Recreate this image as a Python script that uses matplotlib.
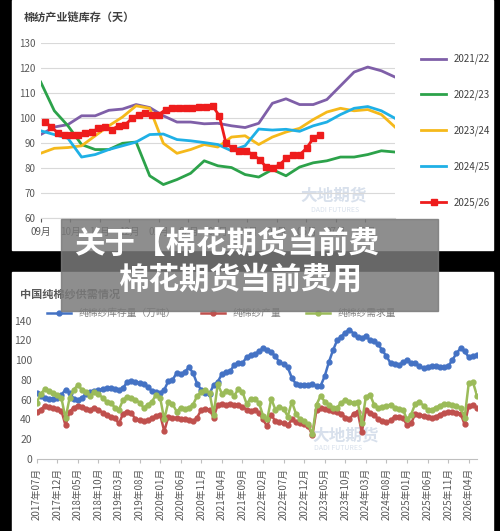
import numpy as np
import matplotlib
matplotlib.use("Agg")
import matplotlib.pyplot as plt
from matplotlib.patches import Rectangle

plt.rcParams['font.family'] = ['Noto Sans CJK SC', 'DejaVu Sans']

# ---------- top chart data (biweekly) ----------
top_months = ["09月", "10月", "11月", "12月", "01月", "02月", "03月", "04月", "05月", "06月", "07月", "08月"]
s2122 = [93.5, 96.5, 97.5, 101, 101, 103.2, 103.7, 105.5, 104.3, 101, 98.5, 98.5, 97.8, 98, 97, 96.3, 98, 106, 107.8, 105.5, 105.5, 107.5, 113, 118.5, 120.5, 119, 116.5]
s2223 = [114.5, 103, 97, 89.5, 87.5, 87.5, 90, 90.5, 77, 73.5, 75.5, 78, 83, 81, 80.3, 77.5, 76.5, 79.5, 77, 80.5, 82.2, 83, 84.5, 84.5, 85.5, 87, 86.5]
s2324 = [86, 88, 88.3, 89, 93, 97, 100.5, 105, 104, 90, 86, 87.5, 89.5, 88.5, 92.5, 93, 89.5, 92.5, 94.5, 96, 99.5, 102.5, 104, 103, 103.5, 101.5, 96.5]
s2425 = [95, 93.5, 92, 84.5, 85.5, 87.5, 89, 90.5, 93.5, 93.7, 91.5, 91, 90.3, 89.5, 87, 89, 95.7, 95.3, 95.6, 94.8, 97, 98.5, 101.5, 104, 104.7, 103, 100]
# weekly
s2526 = [98.5, 96.5, 94, 93.5, 93.5, 93.5, 94, 94.5, 96, 96.5, 95.5, 97, 97.5, 100, 101.5, 102, 101.5, 101.5, 103.5, 104, 104.3, 104, 104, 104.5, 104.5, 105, 101, 90, 88, 87, 87, 85.5, 83.5, 80.5, 80, 81.5, 84, 85.5, 85.5, 88, 92, 93.5]

# ---------- bottom chart data (monthly, 2017-07 .. 2026-06) ----------
inventory = [67,64,62,61,61,62,65,70,67,61,60,62,
             66,68,69,70,71,72,72,71,70,72,78,79,
             78,77,76,73,69,68,67,70,79,80,87,86,
             88,93,87,76,70,67,66,75,78,86,88,89,
             95,97,97,103,105,106,109,112,110,108,104,98,
             96,93,82,76,75,75,75,76,74,74,84,98,
             110,120,124,128,131,127,123,122,125,120,119,116,
             110,104,97,96,95,98,100,97,97,94,92,93,
             94,94,93,93,94,100,107,112,109,103,104,105]
production = [48,50,54,53,52,51,49,34,48,52,54,53,
              51,50,52,50,47,45,43,41,36,46,48,47,
              40,39,38,39,41,44,45,28,43,42,41,40,
              40,39,38,42,50,51,50,42,55,56,55,56,
              55,55,53,50,49,50,47,40,33,45,38,37,
              36,34,40,37,36,35,33,24,50,52,51,50,
              49,48,46,42,40,46,48,27,50,47,45,40,
              38,37,39,43,43,42,34,36,46,45,44,43,
              42,43,45,47,48,48,47,46,35,54,55,52]
demand = [57,66,71,69,67,65,62,41,62,70,75,70,
          68,64,68,66,62,58,57,52,50,60,63,62,
          60,57,52,55,58,65,62,40,58,56,48,52,
          51,52,55,64,68,70,67,45,76,66,69,68,
          64,71,68,56,61,61,57,44,40,61,50,53,
          51,43,58,46,40,38,35,25,55,64,58,55,
          52,52,57,60,58,57,58,36,63,65,55,52,
          53,54,55,52,51,50,40,45,56,58,54,50,
          50,52,54,56,56,55,54,52,42,77,78,64]

W, H = 500, 531
fig = plt.figure(figsize=(W/100, H/100), dpi=100, facecolor='black')

def px(x0, y0, x1, y1):
    return [x0/W, 1-y1/H, (x1-x0)/W, (y1-y0)/H]

# white panels
fig.patches.append(Rectangle((12/W, 1-250/H), 481/W, 250/H, transform=fig.transFigure, color='white', zorder=-5))
fig.patches.append(Rectangle((12/W, 0), 481/W, 1-272/H, transform=fig.transFigure, color='white', zorder=-5))

# ---------- top chart ----------
ax = fig.add_axes(px(40.7, 43.3, 395, 218.3))
ax.set_facecolor('none')
xb = np.arange(len(s2122)) * 2.0
xw = 0.6 + np.arange(len(s2526)) * 0.985
ax.plot(xb, s2122, color='#7f5fa8', lw=2, label='2021/22')
ax.plot(xb, s2223, color='#2ca24a', lw=2, label='2022/23')
ax.plot(xb, s2324, color='#f5b91b', lw=2, label='2023/24')
ax.plot(xb, s2425, color='#1fb0e6', lw=2, label='2024/25')
ax.plot(xw, s2526, color='#ee1c1c', lw=2, marker='s', ms=4, label='2025/26')
ax.set_ylim(60, 130)
ax.set_yticks(range(60, 131, 10))
ax.set_xlim(0, 52)
ax.set_xticks(np.arange(12) * 52/12)
ax.set_xticklabels(top_months)
ax.grid(axis='y', color='#d9d9d9', lw=0.8)
ax.set_axisbelow(True)
for s in ['top', 'right', 'left']:
    ax.spines[s].set_visible(False)
ax.spines['bottom'].set_color('#d9d9d9')
ax.tick_params(axis='y', length=0, labelsize=7, colors='#595959')
ax.tick_params(axis='x', length=3, labelsize=7, colors='#595959')
fig.text(24/W, 1-17/H, "棉纺产业链库存（天）", fontsize=8, fontweight='bold', color='#404040', va='center')
ax.legend(loc='center left', bbox_to_anchor=(1.05, 0.5), frameon=False, fontsize=7,
          labelspacing=2.6, handlelength=2.5, labelcolor='#404040')
fig.text(300/W, 1-200/H, "大地期货", fontsize=12, color='#c8d4e4', alpha=0.7, fontweight='bold', zorder=-1)
fig.text(311/W, 1-212/H, "DADI FUTURES", fontsize=5, color='#c8d4e4', alpha=0.7, zorder=-1)

# ---------- bottom chart ----------
bx = fig.add_axes(px(36.7, 320.7, 477, 459))
bx.set_facecolor('none')
m = np.arange(len(inventory))
bx.plot(m, inventory, color='#4472c4', lw=1.8, marker='o', ms=3.5, label='纯棉纱库存量（万吨）')
bx.plot(m, production, color='#c0504d', lw=1.8, marker='o', ms=3.5, label='纯棉纱产量')
bx.plot(m, demand, color='#9bbb59', lw=1.8, marker='o', ms=3.5, label='纯棉纱需求量')
bx.set_ylim(0, 140)
bx.set_yticks(range(0, 141, 20))
bx.set_xlim(0, len(inventory) - 1)
labels = []
ticks = np.arange(0, len(inventory), 5)
for t in ticks:
    yy = 2017 + (6 + t) // 12
    mm = (6 + t) % 12 + 1
    labels.append(f"{yy}年{mm:02d}月")
bx.set_xticks(ticks)
bx.set_xticklabels(labels, rotation=90, fontsize=7, color='#595959')
for s in ['top', 'right', 'left']:
    bx.spines[s].set_visible(False)
bx.spines['bottom'].set_color('#bfbfbf')
bx.tick_params(axis='y', length=0, labelsize=7.5, colors='#595959')
bx.tick_params(axis='x', length=3, color='#bfbfbf')
bx.legend(loc='lower center', bbox_to_anchor=(0.42, 0.985), ncol=3, frameon=False, fontsize=7,
          handlelength=2.5, columnspacing=2.5, labelcolor='#808080', borderaxespad=0.1)
fig.text(20/W, 1-294/H, "中国纯棉纱供需情况", fontsize=8, fontweight='bold', color='#595959', va='center')
fig.text(312/W, 1-440/H, "大地期货", fontsize=12, color='#c8d4e4', alpha=0.7, fontweight='bold', zorder=-1)
fig.text(314/W, 1-450/H, "DADI FUTURES", fontsize=5, color='#c8d4e4', alpha=0.7, zorder=-1)

# ---------- overlay banner ----------
fig.patches.append(Rectangle((61/W, 1-311/H), 377/W, 92/H, transform=fig.transFigure,
                             color='#7a7a7a', alpha=0.85, zorder=5))
fig.text(74/W, 1-244/H, "关于【棉花期货当前费", fontsize=22, fontweight='bold', color='white', va='center', zorder=6)
fig.text(118/W, 1-279/H, "棉花期货当前费用", fontsize=22, fontweight='bold', color='white', va='center', zorder=6)

fig.savefig("out.png", dpi=100, facecolor='black')
